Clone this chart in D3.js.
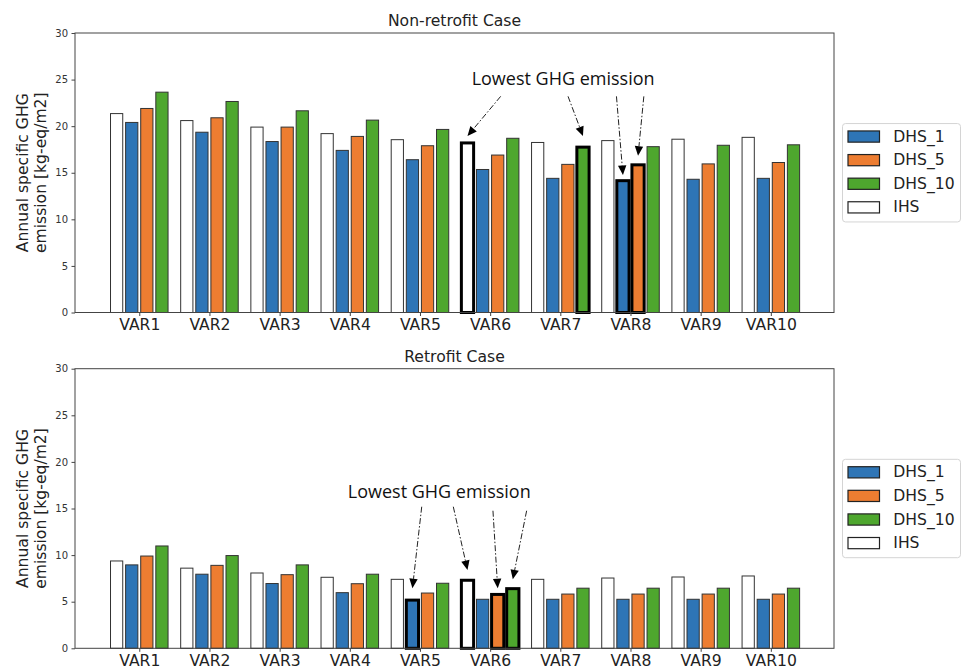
<!DOCTYPE html>
<html>
<head>
<meta charset="utf-8">
<script src="https://cdn.jsdelivr.net/npm/d3@7"></script>
<style>
  body { margin: 0; background: #fff; }
  text { font-family: "DejaVu Sans", sans-serif; }
</style>
</head>
<body>
<svg id="chart" width="963" height="670"></svg>
<script>
// ---- data -------------------------------------------------------------
const categories = ["VAR1", "VAR2", "VAR3", "VAR4", "VAR5", "VAR6", "VAR7", "VAR8", "VAR9", "VAR10"];
const seriesNames = ["IHS", "DHS_1", "DHS_5", "DHS_10"];      // order inside each group
const legendOrder = ["DHS_1", "DHS_5", "DHS_10", "IHS"];
const yTicks = [0, 5, 10, 15, 20, 25, 30];

// Non-retrofit case [kg-eq/m2]
const nonRetrofitIHS   = [21.35, 20.6, 19.9, 19.2, 18.55, 18.2, 18.25, 18.45, 18.6, 18.8];
const nonRetrofitDHS1  = [20.4, 19.35, 18.35, 17.4, 16.4, 15.35, 14.4, 14.15, 14.3, 14.4];
const nonRetrofitDHS5  = [21.9, 20.9, 19.9, 18.9, 17.9, 16.9, 15.9, 15.85, 15.95, 16.1];
const nonRetrofitDHS10 = [23.65, 22.65, 21.65, 20.65, 19.65, 18.7, 17.75, 17.8, 17.95, 18.0];

// Retrofit case [kg-eq/m2]
const retrofitIHS   = [9.37, 8.6, 8.08, 7.62, 7.4, 7.3, 7.4, 7.54, 7.65, 7.76];
const retrofitDHS1  = [8.95, 7.95, 6.95, 5.97, 5.17, 5.26, 5.26, 5.26, 5.26, 5.26];
const retrofitDHS5  = [9.9, 8.9, 7.9, 6.93, 5.93, 5.78, 5.82, 5.82, 5.82, 5.82];
const retrofitDHS10 = [10.98, 9.95, 8.95, 7.95, 6.98, 6.4, 6.45, 6.45, 6.45, 6.45];

// bars marked as lowest emission
const nonRetrofitLowest = [["VAR6", "IHS"], ["VAR7", "DHS_10"], ["VAR8", "DHS_1"], ["VAR8", "DHS_5"]];
const retrofitLowest    = [["VAR5", "DHS_1"], ["VAR6", "IHS"], ["VAR6", "DHS_5"], ["VAR6", "DHS_10"]];

const noteText = "Lowest GHG emission";

// ---- styling / layout -------------------------------------------------
const colors = { DHS_1: "#2e75b6", DHS_5: "#ed7d31", DHS_10: "#4ea72e", IHS: "#ffffff" };

const panels = [
  {
    title: "Non-retrofit Case", top: 33, bottom: 312.5,
    values: { IHS: nonRetrofitIHS, DHS_1: nonRetrofitDHS1, DHS_5: nonRetrofitDHS5, DHS_10: nonRetrofitDHS10 },
    lowest: nonRetrofitLowest,
    // annotation layout in data units: text anchor, arrow tails and tip heights
    note: { x: 6.04, y: 24.4 },
    arrows: [
      { tail: [5.15, 23.2], tipY: 18.94 },
      { tail: [6.11, 23.2], tipY: 18.94 },
      { tail: [6.80, 23.2], tipY: 14.76 },
      { tail: [7.19, 23.2], tipY: 16.83 }
    ]
  },
  {
    title: "Retrofit Case", top: 368.7, bottom: 648.3,
    values: { IHS: retrofitIHS, DHS_1: retrofitDHS1, DHS_5: retrofitDHS5, DHS_10: retrofitDHS10 },
    lowest: retrofitLowest,
    note: { x: 4.275, y: 16.09 },
    arrows: [
      { tail: [4.025, 15.19], tipY: 6.44 },
      { tail: [4.475, 15.19], tipY: 8.4 },
      { tail: [5.04, 14.76], tipY: 6.44 },
      { tail: [5.52, 14.76], tipY: 7.4 }
    ]
  }
];

const svg = d3.select("#chart");

const x = d3.scaleLinear().domain([-0.916, 9.9]).range([75, 834]);
const inner = d3.scaleBand().domain(seriesNames).range([-0.41, 0.41]).paddingInner(0.19);
const barW = x(inner.bandwidth()) - x(0);
const barCenter = (cat, s) => x(categories.indexOf(cat) + inner(s) + inner.bandwidth() / 2);

panels.forEach(p => {
  const y = d3.scaleLinear().domain([0, 30]).range([p.bottom, p.top]);
  const g = svg.append("g");
  const isLow = (cat, s) => p.lowest.some(d => d[0] === cat && d[1] === s);

  const bars = [];
  categories.forEach((cat, i) => {
    seriesNames.forEach(s => bars.push({ cat, i, s, v: p.values[s][i], low: isLow(cat, s) }));
  });
  // regular bars first, highlighted bars on top
  bars.sort((a, b) => a.low - b.low);

  g.selectAll("rect.bar").data(bars).join("rect")
    .attr("class", "bar")
    .attr("x", d => x(d.i + inner(d.s)))
    .attr("width", barW)
    .attr("y", d => y(d.v))
    .attr("height", d => y(0) - y(d.v))
    .attr("fill", d => colors[d.s])
    .attr("stroke", d => d.low ? "#000" : "#333")
    .attr("stroke-width", d => d.low ? 3 : 1);

  // frame
  g.append("rect")
    .attr("x", x.range()[0]).attr("y", p.top)
    .attr("width", x.range()[1] - x.range()[0]).attr("height", p.bottom - p.top)
    .attr("fill", "none").attr("stroke", "#444").attr("stroke-width", 1);

  // y axis
  const yAxis = g.append("g").attr("transform", `translate(${x.range()[0]},0)`)
    .call(d3.axisLeft(y).tickValues(yTicks).tickSize(3.5).tickPadding(3.5));
  yAxis.select(".domain").remove();
  yAxis.selectAll("line").attr("stroke", "#444");
  yAxis.selectAll("text").attr("font-size", 10).attr("fill", "#333")
    .attr("font-family", "DejaVu Sans");

  // x axis
  const xAxis = g.append("g").attr("transform", `translate(0,${p.bottom})`)
    .call(d3.axisBottom(x).tickValues(d3.range(categories.length))
      .tickFormat(i => categories[i]).tickSize(3.5).tickPadding(3));
  xAxis.select(".domain").remove();
  xAxis.selectAll("line").attr("stroke", "#444");
  xAxis.selectAll("text").attr("font-size", 15.6).attr("fill", "#222")
    .attr("font-family", "DejaVu Sans");

  // title
  g.append("text")
    .attr("x", (x.range()[0] + x.range()[1]) / 2).attr("y", p.top - 6.8)
    .attr("text-anchor", "middle").attr("font-size", 15.6).attr("fill", "#222")
    .text(p.title);

  // y label (two lines)
  const cy = (p.top + p.bottom) / 2;
  [["Annual specific GHG", 22.5], ["emission [kg-eq/m2]", 41]].forEach(([t, lx]) => {
    g.append("text")
      .attr("transform", `translate(${lx},${cy}) rotate(-90)`)
      .attr("text-anchor", "middle").attr("dominant-baseline", "central")
      .attr("font-size", 15.6).attr("fill", "#222")
      .text(t);
  });

  // legend
  const lg = g.append("g");
  const ly = cy - 49.2;
  lg.append("rect").attr("x", 842.5).attr("y", ly).attr("width", 118).attr("height", 98.4)
    .attr("rx", 3).attr("fill", "#fff").attr("stroke", "#d4d4d4").attr("stroke-width", 1);
  legendOrder.forEach((s, k) => {
    const ry = cy - 36.2 + k * 23.6;
    lg.append("rect").attr("x", 848).attr("y", ry - 5.6).attr("width", 31.5).attr("height", 11.2)
      .attr("fill", colors[s]).attr("stroke", "#222").attr("stroke-width", 1.2);
    lg.append("text").attr("x", 893.3).attr("y", ry).attr("dominant-baseline", "central")
      .attr("font-size", 15.6).attr("fill", "#222").text(s);
  });

  // annotation
  g.append("text")
    .attr("x", x(p.note.x)).attr("y", y(p.note.y))
    .attr("text-anchor", "middle")
    .style("font-family", "'Open Sans', sans-serif")
    .attr("font-size", 18).attr("fill", "#111")
    .text(noteText);

  p.arrows.forEach((a, k) => {
    const [cat, s] = p.lowest[k];
    const tx = barCenter(cat, s), ty = y(a.tipY);
    const sx = x(a.tail[0]), sy = y(a.tail[1]);
    const dx = tx - sx, dy = ty - sy, len = Math.hypot(dx, dy);
    const ux = dx / len, uy = dy / len;
    const headL = 9.5, headW = 4.2;
    const bx = tx - ux * headL, by = ty - uy * headL;
    g.append("line")
      .attr("x1", sx).attr("y1", sy).attr("x2", bx).attr("y2", by)
      .attr("stroke", "#222").attr("stroke-width", 1)
      .attr("stroke-dasharray", "6,2,1.5,2");
    g.append("path")
      .attr("d", d3.line()([
        [tx, ty],
        [bx - uy * headW, by + ux * headW],
        [bx + uy * headW, by - ux * headW]
      ]) + "Z")
      .attr("fill", "#000");
  });
});
</script>
</body>
</html>
